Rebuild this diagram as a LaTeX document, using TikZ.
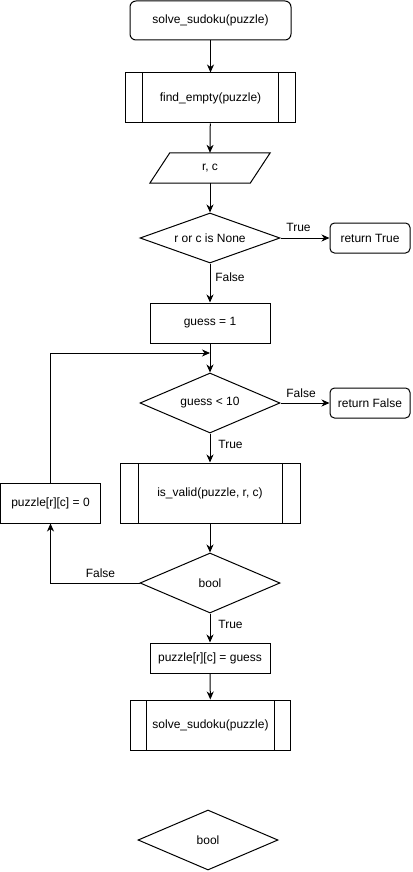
\documentclass[tikz,border=0pt]{standalone}
\usepackage{fontspec}
\setmainfont{Liberation Sans}
\usetikzlibrary{shapes.geometric,arrows.meta}
\tikzset{
  base/.style={draw, line width=1pt, inner sep=0pt, font=\fontsize{12}{14}\selectfont, align=center},
  term/.style={base, rounded corners=#1},
  proc/.style={base, rectangle},
  subproc/.style={base, rectangle, path picture={
    \draw[line width=1pt] ([xshift=#1]path picture bounding box.north west) -- ([xshift=#1]path picture bounding box.south west);
    \draw[line width=1pt] ([xshift=-#1]path picture bounding box.north east) -- ([xshift=-#1]path picture bounding box.south east);}},
  decision/.style={base, diamond, aspect=2.333, minimum width=140pt, minimum height=60pt},
  iobox/.style={inner sep=0pt, font=\fontsize{12}{14}\selectfont},
  arr/.style={line width=1pt, -{Stealth[length=8pt,width=7pt,inset=2.5pt]}},
  lbl/.style={font=\fontsize{12}{14}\selectfont, inner sep=0pt}
}
\begin{document}
\begin{tikzpicture}[x=1pt,y=-1pt]
\useasboundingbox[fill=white] (0,0) rectangle (412,872);

\node[term=6pt, minimum width=161pt, minimum height=39pt] (start) at (210.5,20.5) {solve\_sudoku(puzzle)};
\node[subproc=17pt, minimum width=170pt, minimum height=50pt] (find) at (210.5,98) {find\_empty(puzzle)};
\node[iobox, minimum width=120pt, minimum height=30pt] (rc) at (210,168) {r, c};
\draw[line width=1pt] ([xshift=20pt]rc.north west) -- (rc.north east) -- ([xshift=-20pt]rc.south east) -- (rc.south west) -- cycle;
\node[decision, minimum height=50pt, aspect=2.8] (none) at (210,238) {r or c is None};
\node[term=4.5pt, minimum width=80pt, minimum height=30pt] (rtrue) at (370,238) {return True};
\node[proc, minimum width=120pt, minimum height=40pt] (g1) at (210,323) {guess = 1};
\coordinate (join) at (210,353);
\node[decision] (lt) at (210,403) {guess < 10};
\node[term=4.5pt, minimum width=80pt, minimum height=30pt] (rfalse) at (370,403) {return False};
\node[subproc=18pt, minimum width=180pt, minimum height=60pt] (valid) at (210,493) {is\_valid(puzzle, r, c)};
\node[decision] (bool) at (210,583) {bool};
\node[proc, minimum width=100pt, minimum height=40pt] (reset) at (50.5,503) {puzzle[r][c] = 0};
\node[proc, minimum width=120pt, minimum height=30pt] (set) at (210,658) {puzzle[r][c] = guess};
\node[subproc=16pt, minimum width=160pt, minimum height=50pt] (rec) at (210.5,725) {solve\_sudoku(puzzle)};
\node[decision] (bool2) at (208,840) {bool};

\draw[arr] (start) -- (find);
\draw[arr] (find) -- (rc.north);
\draw[arr] (rc.south) -- (none);
\draw[arr] (none) -- (rtrue);
\draw[arr] (none) -- (g1);
\draw[line width=1pt] (g1) -- (join);
\draw[arr] (join) -- (lt);
\draw[arr] (lt) -- (rfalse);
\draw[arr] (lt) -- (valid);
\draw[arr] (valid) -- (bool);
\draw[arr] (bool.west) -| (reset.south);
\draw[arr] (reset.north) |- (join);
\draw[arr] (bool) -- (set);
\draw[arr] (set) -- (rec);

\node[lbl] (l1) at (298.5,227) {True};
\node[lbl] (l2) at (230,277) {False};
\node[lbl] (l3) at (301,393) {False};
\node[lbl] (l4) at (230.5,444) {True};
\node[lbl] (l5) at (100.5,573) {False};
\node[lbl] (l6) at (230.5,624) {True};
\end{tikzpicture}
\end{document}
